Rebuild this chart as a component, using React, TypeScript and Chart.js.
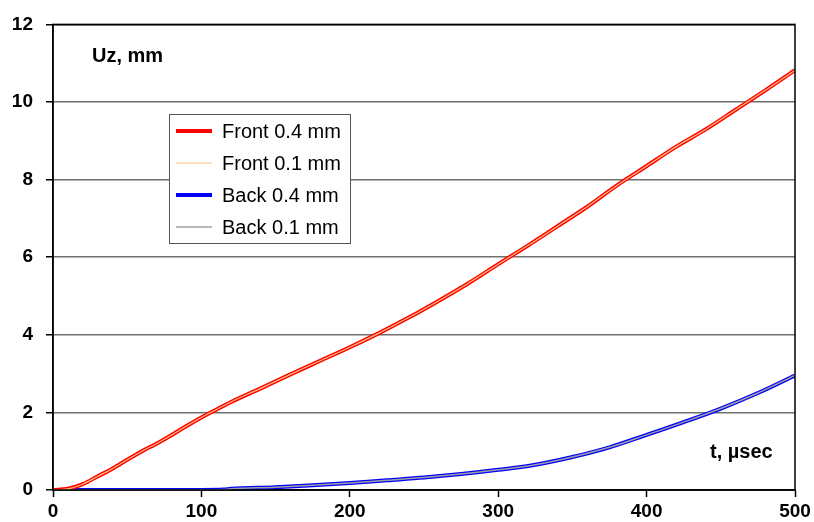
import React, { useEffect, useRef } from "react";
import { Chart, registerables } from "chart.js";

Chart.register(...registerables);

const timeUs = [0, 10, 20, 30, 40, 50, 60, 70, 80, 90, 100, 110, 120, 140, 160, 180, 200, 220, 240, 260, 280, 300, 320, 340, 360, 380, 400, 420, 440, 460, 480, 500];
const front04 = [0, 0.03, 0.15, 0.35, 0.55, 0.78, 1.0, 1.2, 1.42, 1.65, 1.87, 2.07, 2.27, 2.62, 2.98, 3.33, 3.68, 4.05, 4.45, 4.88, 5.33, 5.82, 6.3, 6.8, 7.3, 7.85, 8.35, 8.85, 9.3, 9.8, 10.3, 10.82];
const front01 = front04;
const backTime = [0, 50, 100, 115, 120, 150, 175, 200, 225, 250, 275, 300, 325, 350, 375, 400, 425, 450, 475, 500];
const back04 = [0, 0, 0, 0.01, 0.03, 0.07, 0.12, 0.18, 0.25, 0.32, 0.41, 0.52, 0.65, 0.85, 1.1, 1.42, 1.75, 2.1, 2.5, 2.95];
const back01 = back04;
const yTicks = [0, 2, 4, 6, 8, 10, 12];
const xTicks = [0, 100, 200, 300, 400, 500];

const legendItems = [
  { label: "Front 0.4 mm", color: "#ff0000", width: 4 },
  { label: "Front 0.1 mm", color: "#ffc080", width: 1.2 },
  { label: "Back 0.4 mm", color: "#0000ff", width: 4 },
  { label: "Back 0.1 mm", color: "#a0a0a0", width: 1.5 },
];

const FONT = "'Liberation Sans', Arial, Helvetica, sans-serif";

const pts = (xs: number[], ys: number[]) => xs.map((x, i) => ({ x, y: ys[i] }));

const overlayPlugin = {
  id: "overlay",
  afterDraw(chart: any) {
    const { ctx, chartArea: a } = chart;
    ctx.save();
    ctx.strokeStyle = "#000";
    ctx.lineWidth = 1.5;
    ctx.strokeRect(a.left, a.top, a.right - a.left, a.bottom - a.top);
    ctx.fillStyle = "#000";
    ctx.font = `bold 20px ${FONT}`;
    ctx.textBaseline = "alphabetic";
    ctx.textAlign = "left";
    ctx.fillText("Uz, mm", 92, 62);
    ctx.fillText("t, \u00b5sec", 710, 458);
    const lx = 169, ly = 114, lw = 181, lh = 129;
    ctx.fillStyle = "#fff";
    ctx.fillRect(lx, ly, lw, lh);
    ctx.strokeStyle = "#555";
    ctx.lineWidth = 1;
    ctx.strokeRect(lx + 0.5, ly + 0.5, lw, lh);
    ctx.font = `20px ${FONT}`;
    ctx.textBaseline = "middle";
    legendItems.forEach((it, i) => {
      const y = 131 + i * 32;
      ctx.strokeStyle = it.color;
      ctx.lineWidth = it.width;
      ctx.beginPath();
      ctx.moveTo(176, y);
      ctx.lineTo(212, y);
      ctx.stroke();
      ctx.fillStyle = "#000";
      ctx.fillText(it.label, 222, y + 1);
    });
    ctx.restore();
  },
};

export default function App() {
  const ref = useRef<HTMLCanvasElement>(null);
  useEffect(() => {
    document.body.style.margin = "0";
    const common = { pointRadius: 0, cubicInterpolationMode: "monotone" };
    const chart = new Chart(ref.current!, {
      type: "line",
      data: {
        datasets: [
          { label: "Front 0.4 mm", data: pts(timeUs, front04), borderColor: "#ff0000", borderWidth: 4, order: 2, ...common },
          { label: "Front 0.1 mm", data: pts(timeUs, front01), borderColor: "#ffc080", borderWidth: 1.2, order: 1, ...common },
          { label: "Back 0.4 mm", data: pts(backTime, back04), borderColor: "#0000ff", borderWidth: 4, order: 2, ...common },
          { label: "Back 0.1 mm", data: pts(backTime, back01), borderColor: "#a0a0a0", borderWidth: 1.5, order: 1, ...common },
        ],
      },
      options: {
        responsive: false,
        animation: false,
        layout: { padding: { top: 19, right: 19, left: 0, bottom: 0 } },
        plugins: { legend: { display: false }, tooltip: { enabled: false } },
        scales: {
          x: {
            type: "linear",
            min: 0,
            max: 500,
            afterBuildTicks: (s: any) => { s.ticks = xTicks.map((v) => ({ value: v })); },
            afterFit: (s: any) => { s.height = 32; },
            grid: { drawOnChartArea: false, tickLength: 7, tickColor: "#000", tickWidth: 1.5 },
            border: { color: "#000", width: 1.5 },
            ticks: { color: "#000", font: { family: FONT, size: 19, weight: "bold" }, padding: 3, maxRotation: 0 },
          },
          y: {
            min: 0,
            max: 12,
            afterBuildTicks: (s: any) => { s.ticks = yTicks.map((v) => ({ value: v })); },
            afterFit: (s: any) => { s.width = 53; },
            grid: {
              color: (c: any) => (c.tick && (c.tick.value === 0 || c.tick.value === 12) ? "#000" : "#707070"),
              lineWidth: 1.5,
              tickLength: 7,
              tickColor: "#000",
              tickWidth: 1.5,
            },
            border: { color: "#000", width: 1.5 },
            ticks: { color: "#000", font: { family: FONT, size: 19, weight: "bold" }, padding: 13 },
          },
        },
      },
      plugins: [overlayPlugin],
    } as any);
    return () => chart.destroy();
  }, []);
  return <canvas ref={ref} width={814} height={522} style={{ display: "block" }} />;
}
